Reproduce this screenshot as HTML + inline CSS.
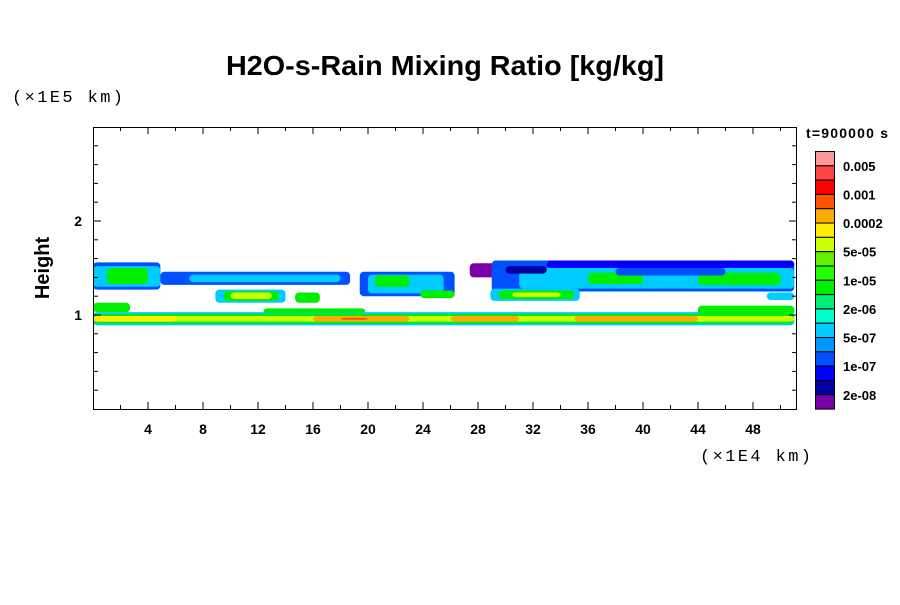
<!DOCTYPE html>
<html><head><meta charset="utf-8"><style>
body{margin:0;background:#fff}
svg text{font-family:"Liberation Sans",sans-serif}
</style></head><body>
<svg id="c" width="900" height="600" xmlns="http://www.w3.org/2000/svg">
<rect width="900" height="600" fill="#fff"/>
<text x="445" y="75" text-anchor="middle" font-size="28" font-weight="bold" textLength="438" lengthAdjust="spacingAndGlyphs">H2O-s-Rain Mixing Ratio [kg/kg]</text>
<text x="12" y="102" font-size="17" textLength="111" style="font-family:'Liberation Mono',monospace">(×1E5 km)</text>
<text x="700" y="461" font-size="17" textLength="111" style="font-family:'Liberation Mono',monospace">(×1E4 km)</text>
<text transform="translate(49,268) rotate(-90)" text-anchor="middle" font-size="20" font-weight="bold">Height</text>
<text x="806" y="138" font-size="14" font-weight="bold" textLength="82">t=900000 s</text>
<g id="marks"></g><g id="axes"></g><g id="cbar"></g>
</svg>
<script>
const levelColors=["#7a00aa","#0000a0","#0000ff","#0050ff","#0096ff","#00ccff","#00ffcc","#00ee77","#00ee00","#22ff00","#66ee00","#ccff00","#ffee00","#ffaa00","#ff5500","#ff0000","#ff4444","#ff9999"];
const cbarLabels=["0.005","0.001","0.0002","5e-05","1e-05","2e-06","5e-07","1e-07","2e-08"];
const xTicks=[4,8,12,16,20,24,28,32,36,40,44,48];
const yTicks=[1,2];
// blobs: x0,x1 (1E4 km), y0,y1 (1E5 km), level
const segX0=[0,0,0,0,16,26,35,18,0,12.4,44,0,0,1,4.9,7,19.4,20,20.5,23.8,8.9,9.5,10,14.7,27.4,29,31,36,44,33,28.9,29.5,30.5,49,30,38];
const segX1=[51,51,51,6,23,31,44,20,2.7,19.8,51,4.9,4.9,4,18.7,18,26.3,25.5,23,26.3,14,13.5,13,16.5,35,51,51,40,50,51,35.4,35,34,51,33,46];
const segY0=[0.89,0.91,0.93,0.93,0.93,0.93,0.93,0.95,1.03,1.02,1.0,1.27,1.3,1.33,1.32,1.35,1.2,1.23,1.3,1.18,1.13,1.15,1.17,1.13,1.4,1.25,1.28,1.33,1.32,1.5,1.15,1.17,1.19,1.16,1.44,1.42];
const segY1=[1.03,1.01,0.99,0.99,0.99,0.99,0.99,0.97,1.13,1.07,1.1,1.56,1.52,1.5,1.46,1.43,1.46,1.43,1.42,1.26,1.27,1.25,1.24,1.24,1.55,1.58,1.5,1.45,1.45,1.58,1.28,1.26,1.24,1.24,1.52,1.5];
const segLev=[5,8,11,12,13,13,13,14,8,8,8,3,5,8,3,5,3,5,8,8,5,8,11,8,0,3,5,8,8,2,5,8,11,5,1,3];
const X=v=>93+v*13.75, Y=v=>409-v*94;
const NS="http://www.w3.org/2000/svg";
function mk(t,a,p){const e=document.createElementNS(NS,t);for(const k in a)e.setAttribute(k,a[k]);p.appendChild(e);return e;}
const marks=document.getElementById('marks');
for(let i=0;i<segX0.length;i++){
 const r=mk('rect',{x:X(segX0[i]),y:Y(segY1[i]),width:X(segX1[i])-X(segX0[i]),height:Y(segY0[i])-Y(segY1[i]),rx:4,fill:levelColors[segLev[i]]},marks);
 
 
}
const ax=document.getElementById('axes');
const fr=mk('rect',{x:93.5,y:127.5,width:703,height:282,fill:'none',stroke:'#000','stroke-width':1},ax);


for(let v=2;v<51;v+=2){const L=v%4===0?7:4;
 mk('line',{x1:X(v),x2:X(v),y1:409,y2:409-L,stroke:'#000'},ax);
 mk('line',{x1:X(v),x2:X(v),y1:127,y2:127+L,stroke:'#000'},ax);}
for(let k=1;k<15;k++){const v=k*0.2,L=k%5===0?7:4;
 mk('line',{x1:94,x2:94+L,y1:Y(v),y2:Y(v),stroke:'#000'},ax);
 mk('line',{x1:796,x2:796-L,y1:Y(v),y2:Y(v),stroke:'#000'},ax);}
xTicks.forEach(v=>{const t=mk('text',{x:X(v),y:434,'text-anchor':'middle','font-size':14,'font-weight':'bold'},ax);t.textContent=v;
 
 });
yTicks.forEach(v=>{const t=mk('text',{x:82,y:Y(v)+5,'text-anchor':'end','font-size':14,'font-weight':'bold'},ax);t.textContent=v;
 
 });
const cb=document.getElementById('cbar');const h=257.6/18;
for(let i=0;i<18;i++){const r=mk('rect',{x:815.5,y:151.5+i*h,width:19,height:h,fill:levelColors[17-i],stroke:'#000','stroke-width':1},cb);
 
 }
cbarLabels.forEach((s,i)=>{const t=mk('text',{x:843,y:151.5+(2*i+1)*h+5,'font-size':13,'font-weight':'bold'},cb);t.textContent=s;
 
 });
</script>
</body></html>
